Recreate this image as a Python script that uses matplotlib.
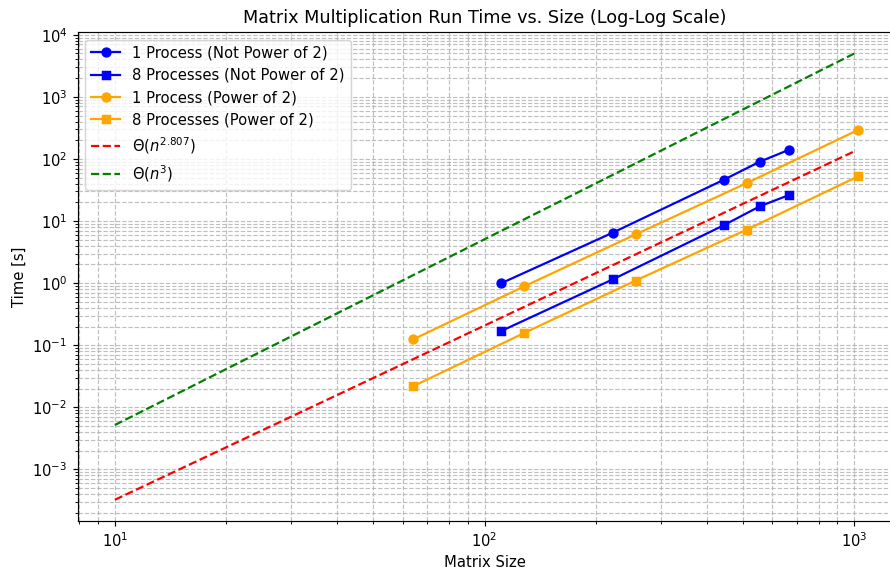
import matplotlib
matplotlib.use("Agg")
import matplotlib.pyplot as plt

# matrix sizes
sizes_npow2 = [111, 222, 444, 555, 666]
sizes_pow2 = [64, 128, 256, 512, 1024]

# run times [s]
t1_npow2 = [1.0, 6.5, 46.4, 90.5, 141]
t8_npow2 = [0.17, 1.15, 8.6, 17.3, 26.3]
t1_pow2 = [0.124, 0.89, 6.1, 41, 294]
t8_pow2 = [0.0218, 0.158, 1.1, 7.3, 52.6]

# reference complexity lines (end points)
theory_n = [10, 1000]
theta_strassen = [3.25e-4, 1.33e2]
theta_cubic = [5.2e-3, 5.0e3]

DPI = 106
fig = plt.figure(figsize=(890 / DPI, 574 / DPI), dpi=DPI)
# the original picture is cropped on the right, so the axes run past the edge
right_px = 920
ax = fig.add_axes([77.7 / 890, 53 / 574, (right_px - 77.7) / 890, 488.7 / 574])

ax.plot(sizes_npow2, t1_npow2, "o-", color="blue", label="1 Process (Not Power of 2)")
ax.plot(sizes_npow2, t8_npow2, "s-", color="blue", label="8 Processes (Not Power of 2)")
ax.plot(sizes_pow2, t1_pow2, "o-", color="orange", label="1 Process (Power of 2)")
ax.plot(sizes_pow2, t8_pow2, "s-", color="orange", label="8 Processes (Power of 2)")
ax.plot(theory_n, theta_strassen, "--", color="red", label=r"$\Theta(n^{2.807})$")
ax.plot(theory_n, theta_cubic, "--", color="green", label=r"$\Theta(n^3)$")

ax.set_xscale("log")
ax.set_yscale("log")
ax.set_xlim(10 ** 0.8995, 10 ** (3 + (right_px - 854.3) / 370.2))
ax.set_ylim(10 ** -3.83, 10 ** 4.04)
ax.grid(True, which="both", ls="--", color="#b0b0b0", lw=0.8, alpha=0.8)

ax.set_title("Matrix Multiplication Run Time vs. Size (Log-Log Scale)", x=(485 - 77.7) / (right_px - 77.7))
ax.set_xlabel("Matrix Size")
ax.xaxis.set_label_coords((485 - 77.7) / (right_px - 77.7), -0.07)
ax.set_ylabel("Time [s]")
ax.legend(loc="upper left")

fig.savefig("out.png", dpi=DPI)
